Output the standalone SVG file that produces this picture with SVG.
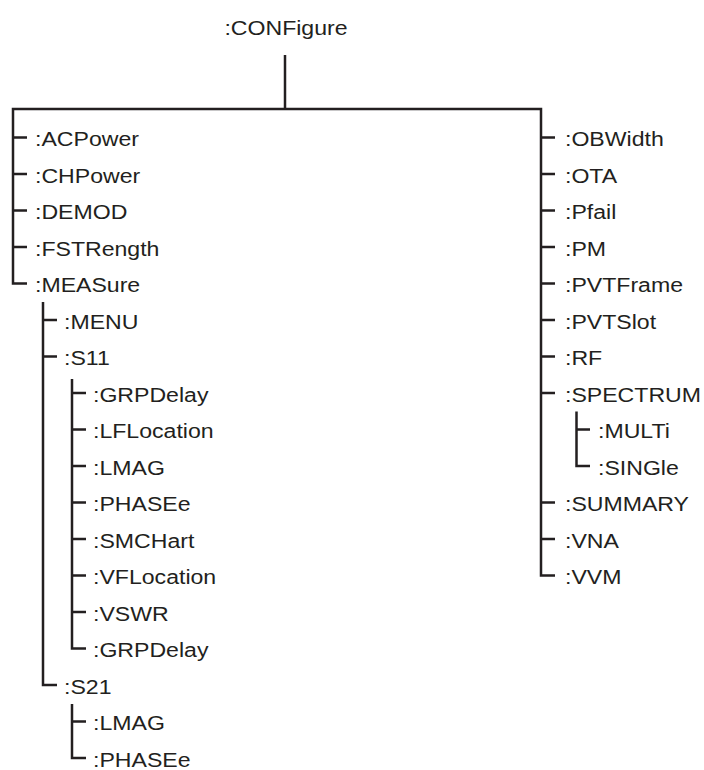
<svg xmlns="http://www.w3.org/2000/svg" width="704" height="770" viewBox="0 0 704 770">
<style>
.t{font-family:"Liberation Sans",Arial,sans-serif;font-size:21px;fill:#231f20}
.c{fill:none;stroke:#231f20;stroke-width:2.5;stroke-linejoin:miter;stroke-linecap:butt}
</style>
<rect width="704" height="770" fill="#ffffff"/>
<g id="connectors" class="c">
<path d="M285,55 V109"/>
<path d="M27,283.5 H13 V109 H541 V575.5 H555"/>
<path d="M13,137.5 H27 M13,174 H27 M13,210.5 H27 M13,247 H27"/>
<path d="M43,302 V685 H57 M43,320 H57 M43,356.5 H57"/>
<path d="M72,379 V648.5 H86 M72,393 H86 M72,429.5 H86 M72,466 H86 M72,502.5 H86 M72,539 H86 M72,575.5 H86 M72,612 H86"/>
<path d="M72,704 V758 H86 M72,721.5 H86"/>
<path d="M541,137.5 H555 M541,174 H555 M541,210.5 H555 M541,247 H555 M541,283.5 H555 M541,320 H555 M541,356.5 H555 M541,393 H555 M541,502.5 H555 M541,539 H555"/>
<path d="M576.5,411.5 V466 H590 M576.5,429.5 H590"/>
</g>
<g id="n-configure"><text class="t" text-anchor="middle" transform="translate(286,35) scale(1.1,1)">:CONFigure</text></g>
<g id="n-acpower"><text class="t" transform="translate(35,146) scale(1.1,1)">:ACPower</text></g>
<g id="n-chpower"><text class="t" transform="translate(35,182.5) scale(1.1,1)">:CHPower</text></g>
<g id="n-demod"><text class="t" transform="translate(35,219) scale(1.1,1)">:DEMOD</text></g>
<g id="n-fstrength"><text class="t" transform="translate(35,255.5) scale(1.1,1)">:FSTRength</text></g>
<g id="n-measure"><text class="t" transform="translate(35,292) scale(1.1,1)">:MEASure</text></g>
<g id="n-menu"><text class="t" transform="translate(64,328.5) scale(1.1,1)">:MENU</text></g>
<g id="n-s11"><text class="t" transform="translate(64,365) scale(1.1,1)">:S11</text></g>
<g id="n-s11-grpdelay"><text class="t" transform="translate(93,401.5) scale(1.1,1)">:GRPDelay</text></g>
<g id="n-s11-lflocation"><text class="t" transform="translate(93,438) scale(1.1,1)">:LFLocation</text></g>
<g id="n-s11-lmag"><text class="t" transform="translate(93,474.5) scale(1.1,1)">:LMAG</text></g>
<g id="n-s11-phasee"><text class="t" transform="translate(93,511) scale(1.1,1)">:PHASEe</text></g>
<g id="n-s11-smchart"><text class="t" transform="translate(93,547.5) scale(1.1,1)">:SMCHart</text></g>
<g id="n-s11-vflocation"><text class="t" transform="translate(93,584) scale(1.1,1)">:VFLocation</text></g>
<g id="n-s11-vswr"><text class="t" transform="translate(93,620.5) scale(1.1,1)">:VSWR</text></g>
<g id="n-s11-grpdelay2"><text class="t" transform="translate(93,657) scale(1.1,1)">:GRPDelay</text></g>
<g id="n-s21"><text class="t" transform="translate(64,693.5) scale(1.1,1)">:S21</text></g>
<g id="n-s21-lmag"><text class="t" transform="translate(93,730) scale(1.1,1)">:LMAG</text></g>
<g id="n-s21-phasee"><text class="t" transform="translate(93,766.5) scale(1.1,1)">:PHASEe</text></g>
<g id="n-obwidth"><text class="t" transform="translate(565,146) scale(1.1,1)">:OBWidth</text></g>
<g id="n-ota"><text class="t" transform="translate(565,182.5) scale(1.1,1)">:OTA</text></g>
<g id="n-pfail"><text class="t" transform="translate(565,219) scale(1.1,1)">:Pfail</text></g>
<g id="n-pm"><text class="t" transform="translate(565,255.5) scale(1.1,1)">:PM</text></g>
<g id="n-pvtframe"><text class="t" transform="translate(565,292) scale(1.1,1)">:PVTFrame</text></g>
<g id="n-pvtslot"><text class="t" transform="translate(565,328.5) scale(1.1,1)">:PVTSlot</text></g>
<g id="n-rf"><text class="t" transform="translate(565,365) scale(1.1,1)">:RF</text></g>
<g id="n-spectrum"><text class="t" transform="translate(565,401.5) scale(1.1,1)">:SPECTRUM</text></g>
<g id="n-multi"><text class="t" transform="translate(598,438) scale(1.1,1)">:MULTi</text></g>
<g id="n-single"><text class="t" transform="translate(598,474.5) scale(1.1,1)">:SINGle</text></g>
<g id="n-summary"><text class="t" transform="translate(565,511) scale(1.1,1)">:SUMMARY</text></g>
<g id="n-vna"><text class="t" transform="translate(565,547.5) scale(1.1,1)">:VNA</text></g>
<g id="n-vvm"><text class="t" transform="translate(565,584) scale(1.1,1)">:VVM</text></g>
</svg>
